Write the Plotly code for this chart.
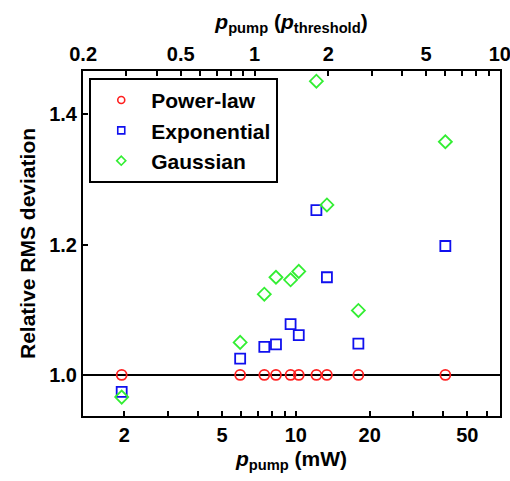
import math
import plotly.graph_objects as go

# ---- data ----
p_pump_mw = [1.95, 5.93, 7.44, 8.30, 9.52, 10.28, 12.13, 13.39, 17.99, 40.7]
power_law = [1.000, 1.000, 1.000, 1.000, 1.000, 1.000, 1.000, 1.000, 1.000, 1.000]
exponential = [0.974, 1.025, 1.043, 1.047, 1.078, 1.061, 1.253, 1.150, 1.048, 1.198]
gaussian = [0.966, 1.050, 1.124, 1.150, 1.146, 1.159, 1.451, 1.261, 1.099, 1.358]
p_threshold_mw = 6.79

bottom_major = [2, 5, 10, 20, 50]
bottom_labels = ["2", "5", "10", "20", "50"]
bottom_minor = [3, 4, 6, 7, 8, 9, 30, 40, 60]
top_major = [0.2, 0.5, 1, 2, 5, 10]
top_labels = ["0.2", "0.5", "1", "2", "5", "10"]
top_minor = [0.3, 0.4, 0.6, 0.7, 0.8, 0.9, 3, 4, 6, 7, 8, 9]
y_ticks = [1.0, 1.2, 1.4]
y_labels = ["1.0", "1.2", "1.4"]

series = [
    ("Power-law", power_law, "circle-open", "#ff2020"),
    ("Exponential", exponential, "square-open", "#1010ee"),
    ("Gaussian", gaussian, "diamond-open", "#33ee33"),
]

FONT = "Liberation Sans, Arial, sans-serif"

fig = go.Figure()
for name, vals, sym, col in series:
    fig.add_trace(go.Scatter(
        x=p_pump_mw, y=vals, mode="markers", name=name, showlegend=False,
        marker=dict(symbol=sym, size=10, color=col, line=dict(width=1.8, color=col)),
        cliponaxis=False,
    ))
for name, vals, sym, col in series:
    fig.add_trace(go.Scatter(
        x=[None], y=[None], mode="markers", name=name, showlegend=True,
        marker=dict(symbol=sym, size=7, color=col, line=dict(width=1.6, color=col)),
    ))

xr2 = [math.log10(0.2) - 0.0006, 1.0006]
xr = [xr2[0] + math.log10(p_threshold_mw), xr2[1] + math.log10(p_threshold_mw)]

axis_style = dict(
    showline=True, linecolor="black", linewidth=2, ticks="inside", ticklen=5,
    tickwidth=2, tickcolor="black", showgrid=False, zeroline=False, automargin=False,
    ticklabeloverflow="allow",
    tickfont=dict(family=FONT, size=20, color="black", weight="bold"),
)
minor_style = dict(ticks="inside", ticklen=5, tickwidth=2, tickcolor="black", showgrid=False)

fig.update_layout(
    width=510, height=481,
    margin=dict(l=83, r=10, t=71, b=65),
    paper_bgcolor="white", plot_bgcolor="white",
    font=dict(family=FONT, color="black", weight="bold"),
    xaxis=dict(
        type="log", range=xr, tickvals=bottom_major, ticktext=bottom_labels,
        minor=dict(tickvals=bottom_minor, **minor_style),
        title=dict(text="<i>p</i><sub>pump</sub> (mW)", standoff=6,
                   font=dict(family=FONT, size=21, color="black", weight="bold")),
        **axis_style,
    ),
    xaxis2=dict(
        type="log", range=xr2, overlaying="x", side="top", anchor="y",
        tickvals=top_major, ticktext=top_labels,
        minor=dict(tickvals=top_minor, **minor_style),
        title=dict(text="<i>p</i><sub>pump</sub> (<i>p</i><sub>threshold</sub>)", standoff=8,
                   font=dict(family=FONT, size=21, color="black", weight="bold")),
        **axis_style,
    ),
    yaxis=dict(
        range=[0.937, 1.4666], tickvals=y_ticks, ticktext=y_labels, mirror=True,
        title=dict(text="Relative RMS deviation", standoff=8,
                   font=dict(family=FONT, size=21, color="black", weight="bold")),
        **axis_style,
    ),
    legend=dict(
        x=0.015, y=0.98, xanchor="left", yanchor="top",
        bordercolor="black", borderwidth=2, bgcolor="white",
        font=dict(family=FONT, size=21, color="black", weight="bold"),
        itemwidth=50, tracegroupgap=0,
    ),
    shapes=[dict(type="line", xref="paper", x0=0, x1=1, yref="y", y0=1.0, y1=1.0,
                 line=dict(color="black", width=2), layer="below")],
)
fig.add_trace(go.Scatter(x=[None], y=[None], xaxis="x2", yaxis="y", showlegend=False))

fig.write_html("out.html")
